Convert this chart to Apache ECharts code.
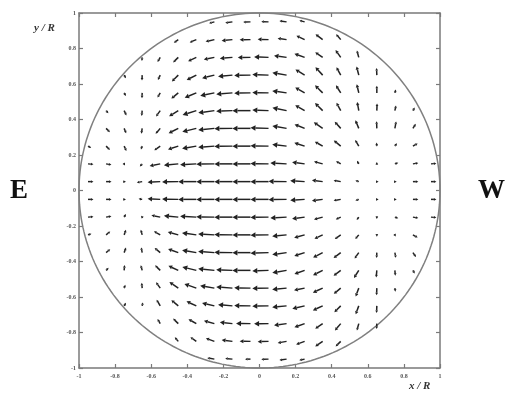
<!DOCTYPE html>
<html>
<head>
<meta charset="utf-8">
<script src="https://cdn.jsdelivr.net/npm/echarts@6/dist/echarts.min.js"></script>
<style>
  html, body { margin: 0; padding: 0; background: #fff; }
  #chart { width: 517px; height: 394px; }
</style>
</head>
<body>
<div id="chart"></div>
<script>
// Horizontal velocity field inside a circular domain (x/R, y/R).
const _ = null;

// Grid node positions (cell centres, spacing 0.1 R)
const gridX = [-0.95, -0.85, -0.75, -0.65, -0.55, -0.45, -0.35, -0.25, -0.15, -0.05,
                0.05,  0.15,  0.25,  0.35,  0.45,  0.55,  0.65,  0.75,  0.85,  0.95];
const gridY = [0.95, 0.85, 0.75, 0.65, 0.55, 0.45, 0.35, 0.25, 0.15, 0.05,
              -0.05, -0.15, -0.25, -0.35, -0.45, -0.55, -0.65, -0.75, -0.85, -0.95];

// Flow direction at each node, degrees counter-clockwise from +x (null = outside the disc)
const flowAngle = [
  [_, _, _, _, _, _, _, 195, 188, 182, 178, 172, 165, _, _, _, _, _, _, _],
  [_, _, _, _, _, 215, 203, 193, 186, 181, 178, 172, 155, 142, 130, _, _, _, _, _],
  [_, _, _, 265, 240, 225, 205, 192, 185, 181, 178, 172, 160, 145, 125, 105, _, _, _, _],
  [_, _, 300, 268, 245, 225, 207, 194, 186, 181, 178, 170, 148, 132, 118, 104, 92, _, _, _],
  [_, _, 300, 268, 240, 220, 203, 192, 185, 181, 179, 172, 150, 135, 122, 103, 90, 75, _, _],
  [_, 310, 295, 265, 235, 212, 198, 188, 182, 180, 178, 168, 150, 135, 118, 100, 88, 78, 60, _],
  [_, 315, 292, 262, 230, 207, 194, 186, 181, 180, 178, 170, 158, 145, 132, 112, 92, 80, 58, _],
  [330, 315, 295, 250, 215, 198, 190, 184, 181, 180, 179, 173, 162, 150, 140, 120, 95, 55, 30, _],
  [355, 350, 300, 230, 192, 186, 183, 181, 180, 180, 179, 177, 172, 165, 150, 120, 90, 20, 10, 5],
  [0, 0, 0, 190, 183, 181, 180, 180, 180, 180, 180, 179, 176, 172, 170, 160, 0, 0, 0, 0],
  [0, 0, 0, 170, 177, 179, 180, 180, 180, 180, 180, 181, 184, 188, 190, 200, 0, 0, 0, 0],
  [5, 10, 60, 130, 168, 174, 177, 179, 180, 180, 181, 183, 188, 195, 205, 235, 270, 340, 350, 355],
  [20, 40, 70, 105, 150, 165, 172, 177, 179, 180, 181, 186, 195, 205, 215, 230, 270, 300, 330, _],
  [_, 40, 70, 100, 140, 160, 170, 176, 179, 180, 182, 188, 198, 208, 218, 235, 268, 280, 305, _],
  [_, 45, 85, 105, 135, 155, 166, 174, 178, 180, 182, 190, 200, 207, 218, 238, 265, 275, 300, _],
  [_, _, 70, 95, 125, 145, 160, 170, 176, 179, 181, 186, 192, 205, 220, 250, 268, 278, _, _],
  [_, _, 60, 80, 120, 140, 155, 167, 175, 179, 181, 186, 193, 205, 225, 250, 268, _, _, _],
  [_, _, _, _, 120, 135, 150, 165, 174, 179, 181, 188, 200, 215, 230, 255, 268, _, _, _],
  [_, _, _, _, _, 130, 145, 160, 172, 179, 182, 190, 200, 215, 225, _, _, _, _, _],
  [_, _, _, _, _, _, _, 170, 175, 180, 182, 188, 192, _, _, _, _, _, _, _]
];

// Flow speed at each node, in hundredths of R per unit arrow scale
const flowSpeed = [
  [_, _, _, _, _, _, _, 3, 4, 4, 4, 4, 3, _, _, _, _, _, _, _],
  [_, _, _, _, _, 3, 4, 5, 6, 6, 6, 5, 5, 5, 4, _, _, _, _, _],
  [_, _, _, 2, 3, 4, 5, 6, 7, 7, 8, 7, 6, 5, 5, 4, _, _, _, _],
  [_, _, 2, 3, 3, 5, 6, 7, 8, 9, 9, 8, 6, 6, 5, 5, 4, _, _, _],
  [_, _, 2, 3, 3, 5, 7, 8, 9, 9, 9, 8, 6, 6, 5, 5, 4, 2, _, _],
  [_, 2, 3, 3, 4, 6, 8, 9, 9, 10, 9, 8, 6, 6, 5, 5, 4, 3, 2, _],
  [_, 3, 3, 3, 4, 6, 8, 9, 10, 10, 10, 8, 6, 6, 5, 5, 4, 4, 3, _],
  [2, 3, 3, 2, 4, 6, 8, 9, 10, 10, 10, 8, 6, 5, 5, 4, 2, 2, 3, _],
  [3, 3, 1, 2, 6, 8, 9, 10, 10, 10, 10, 9, 7, 5, 3, 2, 1, 2, 3, 3],
  [3, 3, 1, 3, 7, 9, 10, 10, 10, 10, 10, 10, 8, 6, 4, 2, 1, 1, 3, 3],
  [3, 3, 1, 2, 7, 9, 10, 10, 10, 10, 10, 10, 8, 6, 4, 2, 1, 1, 3, 3],
  [3, 3, 2, 1, 5, 8, 9, 10, 10, 10, 10, 9, 7, 5, 3, 2, 1, 2, 3, 3],
  [2, 3, 3, 3, 4, 6, 8, 9, 10, 10, 10, 8, 6, 5, 4, 3, 1, 1, 3, _],
  [_, 3, 3, 3, 4, 6, 8, 9, 10, 10, 10, 8, 6, 6, 5, 4, 3, 3, 3, _],
  [_, 2, 3, 3, 4, 6, 8, 9, 9, 10, 9, 8, 6, 6, 5, 5, 4, 3, 2, _],
  [_, _, 2, 3, 4, 6, 7, 8, 9, 9, 9, 8, 6, 6, 5, 5, 4, 2, _, _],
  [_, _, 2, 2, 4, 5, 6, 7, 8, 9, 9, 8, 7, 6, 5, 5, 4, _, _, _],
  [_, _, _, _, 3, 4, 5, 6, 7, 8, 8, 7, 6, 5, 5, 4, 3, _, _, _],
  [_, _, _, _, _, 3, 4, 5, 6, 6, 6, 5, 5, 5, 4, _, _, _, _, _],
  [_, _, _, _, _, _, _, 4, 4, 3, 4, 4, 3, _, _, _, _, _, _, _]
];

// Axis range and tick step (x/R and y/R)
const axisMin = -1;
const axisMax = 1;
const axisStep = 0.2;
const domainRadius = 1;

// Build [x, y, u, v] records for the quiver series
const vectors = [];
gridY.forEach((y, i) => {
  gridX.forEach((x, j) => {
    const a = flowAngle[i][j];
    const s = flowSpeed[i][j];
    if (a === null || s === null) return;
    const rad = a * Math.PI / 180;
    vectors.push([x, y, s * 0.01 * Math.cos(rad), s * 0.01 * Math.sin(rad)]);
  });
});

const ARROW_COLOR = '#222222';

function renderArrow(params, api) {
  const x = api.value(0), y = api.value(1), u = api.value(2), v = api.value(3);
  const p0 = api.coord([x, y]);
  const p1 = api.coord([x + u, y + v]);
  const dx = p1[0] - p0[0], dy = p1[1] - p0[1];
  const len = Math.hypot(dx, dy);
  if (len < 0.5) {
    return { type: 'circle', shape: { cx: p0[0], cy: p0[1], r: 0.8 }, style: { fill: ARROW_COLOR } };
  }
  const ux = dx / len, uy = dy / len;
  const h = Math.min(5, Math.max(2.5, len * 0.35));
  const w = h * 0.55;
  const bx = p1[0] - ux * h, by = p1[1] - uy * h;
  return {
    type: 'group',
    children: [
      { type: 'line', shape: { x1: p0[0], y1: p0[1], x2: bx, y2: by },
        style: { stroke: ARROW_COLOR, lineWidth: 1.5 } },
      { type: 'polygon',
        shape: { points: [[p1[0], p1[1]], [bx - uy * w, by + ux * w], [bx + uy * w, by - ux * w]] },
        style: { fill: ARROW_COLOR } }
    ]
  };
}

function renderBoundary(params, api) {
  const cx = api.value(0), cy = api.value(1), r = api.value(2);
  const pts = [];
  for (let k = 0; k <= 240; k++) {
    const t = k / 240 * Math.PI * 2;
    pts.push(api.coord([cx + r * Math.cos(t), cy + r * Math.sin(t)]));
  }
  return { type: 'polyline', shape: { points: pts },
           style: { stroke: '#808080', lineWidth: 1.5, fill: null } };
}

const frameLine = { show: true, onZero: false, lineStyle: { color: '#7a7a7a', width: 1.5 } };
const innerTick = { show: true, inside: true, length: 4, lineStyle: { color: '#7a7a7a', width: 1.2 } };
const tickText = { fontSize: 6, color: '#555', fontFamily: 'Liberation Serif', fontWeight: 'bold' };

function valueAxis(position, showLabels, margin) {
  return {
    type: 'value', position: position,
    min: axisMin, max: axisMax, interval: axisStep,
    axisLine: frameLine, axisTick: innerTick,
    splitLine: { show: false },
    axisLabel: Object.assign({ show: showLabels, margin: margin }, tickText)
  };
}

const chart = echarts.init(document.getElementById('chart'), null, { renderer: 'canvas' });
chart.setOption({
  animation: false,
  backgroundColor: '#ffffff',
  grid: { left: 79, right: 77, top: 13, bottom: 26, containLabel: false },
  xAxis: [valueAxis('bottom', true, 5), valueAxis('top', false, 5)],
  yAxis: [valueAxis('left', true, 3), valueAxis('right', false, 3)],
  graphic: [
    { type: 'text', left: 10, top: 178,
      style: { text: 'E', fontSize: 27, fontWeight: 'bold', fontFamily: 'Liberation Serif', fill: '#111' } },
    { type: 'text', left: 478, top: 178,
      style: { text: 'W', fontSize: 27, fontWeight: 'bold', fontFamily: 'Liberation Serif', fill: '#111' } },
    { type: 'text', left: 34, top: 23,
      style: { text: 'y / R', fontSize: 11, fontStyle: 'italic', fontWeight: 'bold', fontFamily: 'Liberation Serif', fill: '#333' } },
    { type: 'text', left: 409, top: 381,
      style: { text: 'x / R', fontSize: 11, fontStyle: 'italic', fontWeight: 'bold', fontFamily: 'Liberation Serif', fill: '#333' } }
  ],
  series: [
    { type: 'custom', name: 'boundary', xAxisIndex: 0, yAxisIndex: 0,
      renderItem: renderBoundary, data: [[0, 0, domainRadius]], silent: true, clip: false },
    { type: 'custom', name: 'velocity', xAxisIndex: 0, yAxisIndex: 0,
      renderItem: renderArrow, encode: { x: 0, y: 1 }, data: vectors, silent: true, clip: false }
  ]
});
</script>
</body>
</html>
